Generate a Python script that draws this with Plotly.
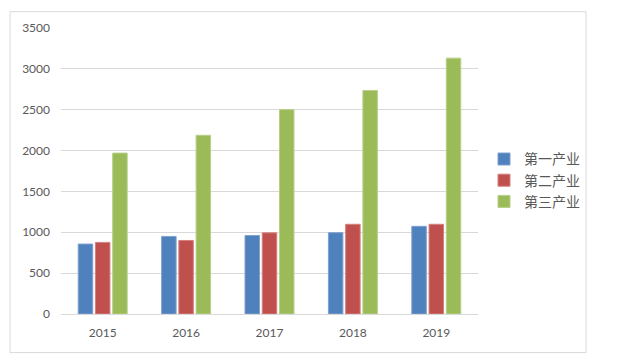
import plotly.graph_objects as go

years = ["2015", "2016", "2017", "2018", "2019"]
primary = [856, 949, 961, 995, 1073]
secondary = [876, 900, 993, 1098, 1098]
tertiary = [1969, 2187, 2501, 2735, 3131]
series_names = ["第一产业", "第二产业", "第三产业"]
colors = ["#4F81BD", "#C0504D", "#9BBB59"]
line_colors = ["#7EA1CF", "#D3817F", "#B8CF89"]

fig = go.Figure()
for name, vals, c, lc in zip(series_names, [primary, secondary, tertiary], colors, line_colors):
    fig.add_trace(go.Bar(x=years, y=vals, name=name,
                         marker=dict(color=c, line=dict(color=lc, width=1))))

# page body has an 8px default margin on every side; size the figure so it fits exactly
OFF = 8
W, H = 618 - 2 * OFF, 362 - 2 * OFF
L, T = 61 - OFF, 25 - OFF
R = W - (478 - OFF)
B = H - (314 - OFF)
PW, PH = W - L - R, H - T - B

# outer frame (page pixels); top edge kept just inside the figure
FX0, FX1, FY0, FY1 = 10, 586, 353, 8.5

fig.update_layout(
    width=W, height=H,
    margin=dict(l=L, r=R, t=T, b=B),
    paper_bgcolor="white", plot_bgcolor="white",
    barmode="group", bargap=0.38, bargroupgap=0.16,
    font=dict(family="Lato, Noto Sans CJK SC", color="#595959", size=11),
    xaxis=dict(showline=True, linecolor="#D9D9D9", linewidth=1, ticks="",
               ticklabelstandoff=8,
               tickfont=dict(size=12, color="#595959")),
    yaxis=dict(range=[0, 3500], dtick=500, showgrid=True, gridcolor="#D9D9D9",
               gridwidth=1, zeroline=False, ticks="", ticklabelstandoff=10,
               tickfont=dict(size=12, color="#595959")),
    legend=dict(x=(484 - 61) / PW, y=(314 - 179) / PH, xanchor="left", yanchor="middle",
                font=dict(family="Noto Sans CJK SC", size=14, color="#595959"),
                itemwidth=30, tracegroupgap=0, bgcolor="rgba(0,0,0,0)"),
    shapes=[dict(type="rect", xref="paper", yref="paper",
                 x0=(FX0 - 61) / PW, x1=(FX1 - 61) / PW,
                 y0=-(FY0 - 314) / PH, y1=(314 - FY1) / PH,
                 line=dict(color="#D9D9D9", width=1), fillcolor="rgba(0,0,0,0)",
                 layer="below")],
)

fig.write_html("out.html")
